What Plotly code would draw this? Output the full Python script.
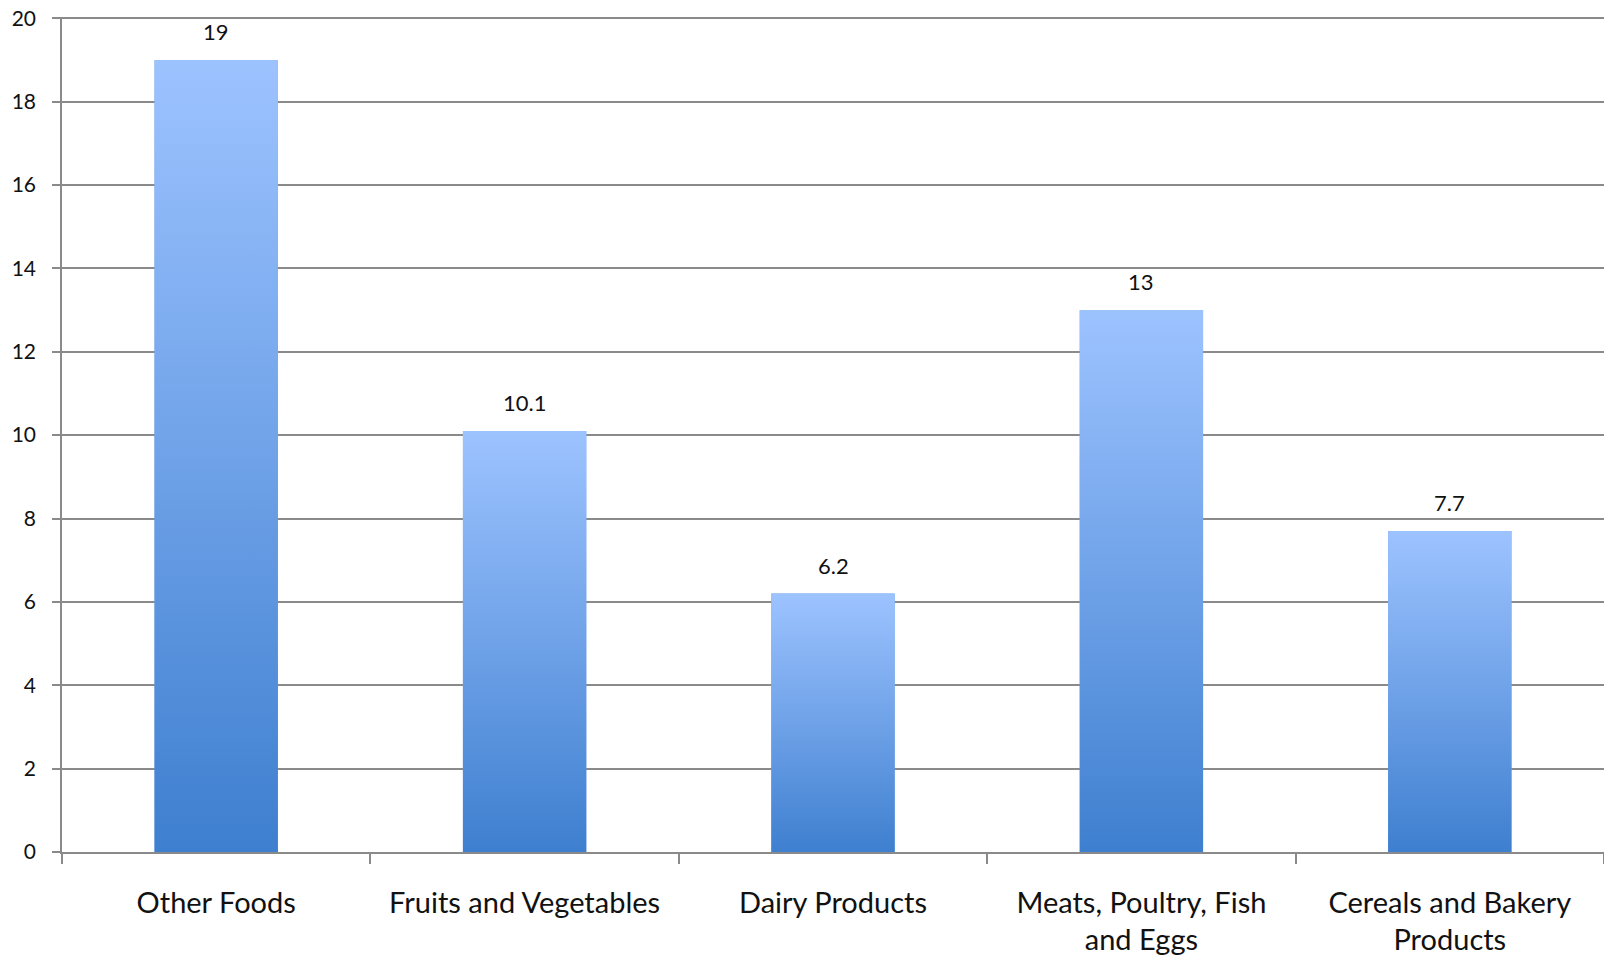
import plotly.graph_objects as go

categories = ["Other Foods", "Fruits and Vegetables", "Dairy Products",
              "Meats, Poultry, Fish<br>and Eggs", "Cereals and Bakery<br>Products"]
values = [19, 10.1, 6.2, 13, 7.7]
y_ticks = [0, 2, 4, 6, 8, 10, 12, 14, 16, 18, 20]

BAR_W = 0.4
GRID = "#8a8a8a"
FONT = "Lato"

fig = go.Figure()

# base bars (data)
fig.add_trace(go.Bar(x=categories, y=values, width=BAR_W,
                     marker=dict(color="#6B9FE6", line=dict(width=0)),
                     hoverinfo="x+y", showlegend=False))

# gradient overlay for each bar, built from the same values
for i, v in enumerate(values):
    fig.add_trace(go.Scatter(
        x=[i - BAR_W / 2, i + BAR_W / 2, i + BAR_W / 2, i - BAR_W / 2, i - BAR_W / 2],
        y=[0, 0, v, v, 0],
        xaxis="x2", yaxis="y",
        mode="lines", line=dict(width=0),
        fill="toself",
        fillgradient=dict(type="vertical",
                          colorscale=[[0, "#3E7FCF"], [0.5, "#6FA2E8"], [1, "#9DC3FF"]]),
        hoverinfo="skip", showlegend=False))

for i, v in enumerate(values):
    fig.add_annotation(x=categories[i], y=v, text=str(v), showarrow=False,
                       yanchor="bottom", yshift=13,
                       font=dict(family=FONT, size=22, color="#111"))

fig.update_layout(
    width=1604, height=957,
    margin=dict(l=62, r=0, t=17, b=105),
    paper_bgcolor="white", plot_bgcolor="white",
    font=dict(family=FONT, color="#111"),
    bargap=0.6,
    xaxis=dict(type="category", showgrid=False, showline=True, linecolor=GRID, linewidth=1.5,
               ticks="outside", tickson="boundaries", ticklen=10, tickcolor=GRID, tickwidth=1.5,
               tickfont=dict(family=FONT, size=29, color="#111"), ticklabelstandoff=24,
               range=[-0.5, 4.5], automargin=False),
    xaxis2=dict(overlaying="x", range=[-0.5, 4.5], visible=False, fixedrange=True),
    yaxis=dict(range=[0, 20.03], tickvals=y_ticks, showgrid=True, gridcolor=GRID, gridwidth=1.6,
               showline=True, linecolor=GRID, linewidth=1.5, zeroline=False,
               ticks="outside", ticklen=8, tickcolor=GRID, tickwidth=1.5,
               tickfont=dict(family=FONT, size=21, color="#111"), ticklabelstandoff=12,
               ticklabeloverflow="allow", automargin=False),
)

fig.write_html("out.html", config={"displayModeBar": False},
               post_script="document.body.style.margin='0';")
